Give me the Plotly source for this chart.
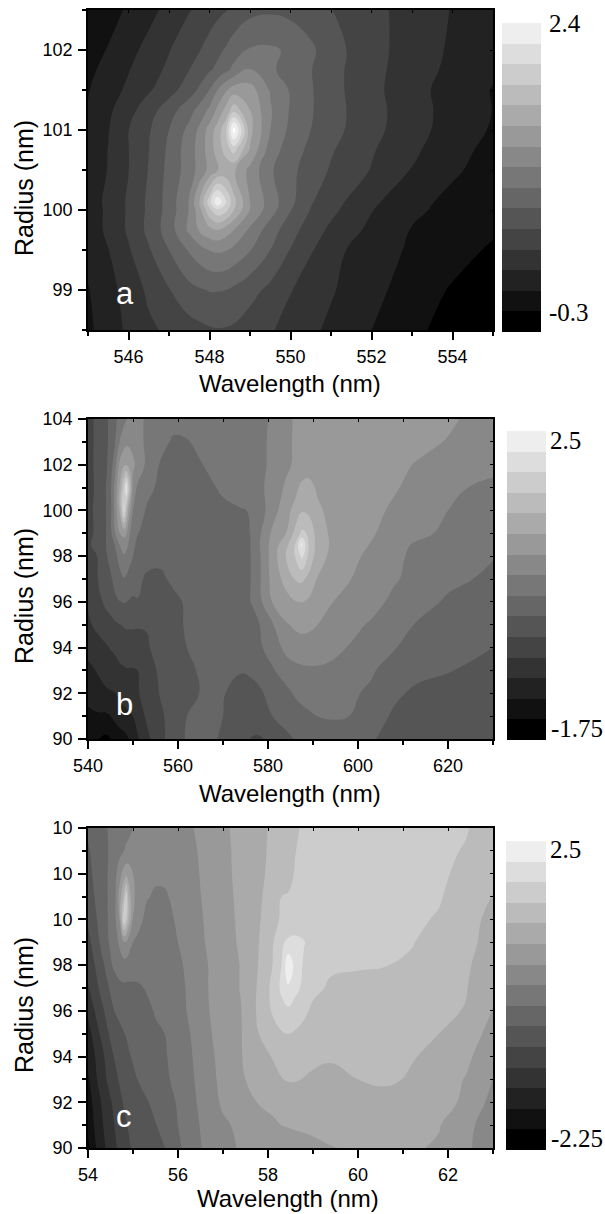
import plotly.graph_objects as go

W, H = 605, 1214

# ---------- panel a (z is the grey band number of the 15-step scale) ----------
a_wave = [545,545.5,546,546.5,547,547.5,547.75,548,548.2,548.4,548.6,549,549.5,550,550.5,551,552,553,554,555]
a_radius = [98.5,99,99.5,99.75,100,100.1,100.5,100.75,101,101.25,101.5,101.75,102,102.5]
a_z = [
[1.8,2.5,3.2,3.8,4.2,4.6,4.75,4.9,4.95,4.92,4.85,4.5,4.1,3.65,3.2,2.8,2.0,1.25,0.6,0.1],
[1.95,2.65,3.4,4.2,4.95,5.7,5.9,6.05,6.05,6.0,5.8,5.35,4.75,4.05,3.5,3.1,2.3,1.55,0.9,0.4],
[2.3,2.98,3.9,4.9,6.0,7.1,7.6,8.02,8.15,8.05,7.75,7.05,6.0,4.95,4.1,3.3,2.5,1.85,1.4,0.85],
[2.45,3.2,4.15,5.25,6.5,8.2,9.1,9.7,9.95,9.5,9.0,7.8,6.5,5.4,4.5,3.8,2.75,1.95,1.5,1.15],
[2.45,3.2,4.15,5.2,6.4,8.05,9.6,11.75,12.8,12.3,11.0,8.95,7.45,6.05,4.95,4.25,3.05,2.2,1.7,1.25],
[2.45,3.25,4.15,5.2,6.4,8.1,10.0,12.6,14.8,13.2,11.3,9.0,7.55,6.25,5.1,4.4,3.2,2.3,1.75,1.3],
[2.3,3.05,3.98,5.05,6.3,7.5,8.35,9.3,9.95,10.3,10.15,8.7,7.15,6.25,5.55,4.9,3.95,2.95,2.15,1.6],
[2.2,3.03,3.98,4.98,6.2,7.55,8.35,9.5,10.45,11.4,12.4,9.9,7.5,6.5,5.75,5.1,4.1,3.2,2.35,1.7],
[2.1,2.95,3.98,4.9,6.0,7.3,8.2,9.4,10.45,11.7,15.5,10.3,8.0,6.75,6.0,5.35,4.3,3.4,2.55,1.9],
[2.05,2.8,3.65,4.55,5.55,6.6,7.35,8.2,9.25,10.3,11.6,10.0,8.1,6.9,6.1,5.4,4.35,3.45,2.6,1.98],
[1.95,2.55,3.2,3.88,4.6,5.55,6.15,7.0,8.0,8.85,9.5,9.45,7.9,6.9,6.1,5.35,4.3,3.35,2.6,1.95],
[1.75,2.35,2.95,3.6,4.2,5.0,5.45,5.9,6.25,6.8,7.25,8.05,7.2,6.55,6.05,5.35,4.3,3.5,2.75,2.15],
[1.5,2.07,2.7,3.3,3.95,4.6,4.95,5.4,5.75,6.1,6.55,7.1,7.15,6.85,6.2,5.4,4.35,3.55,2.85,2.3],
[1.0,1.6,2.15,2.7,3.3,3.95,4.2,4.5,4.75,4.95,5.2,5.7,5.85,5.7,5.4,5.03,4.3,3.6,2.95,2.4],
]

# ---------- panel b ----------
b_wave = [540,542,544,545,546,547,548,548.5,549,550,551,553,556,559,562,566,570,574,576.5,578,581,584,586,587.5,589,591,594,598,603,608,613,620,630]
b_radius = [90,91,92,93,94,95,96,97,98,98.5,99,100,101,102,103,104]
b_z = [
[1.2,1.05,0.8,1.0,1.2,1.45,1.65,1.8,1.95,2.4,2.9,3.7,4.75,5.45,6.1,6.2,5.9,5.2,4.95,4.9,5.2,5.75,6.05,6.15,6.25,6.35,6.4,6.35,6.1,5.6,5.25,5.15,5.1],
[1.75,1.85,1.85,2.0,2.3,2.55,2.7,2.75,2.85,3.0,3.35,4.15,4.8,5.45,6.0,6.05,6.0,5.4,5.35,5.5,6.0,6.4,6.6,6.7,6.85,7.0,7.1,7.0,6.5,5.85,5.45,5.3,5.2],
[2.35,2.7,2.85,2.9,2.97,3.2,3.4,3.45,3.5,3.65,3.9,4.4,5.05,5.5,5.9,6.05,6.05,5.7,5.75,5.85,6.3,6.75,7.1,7.3,7.4,7.4,7.35,7.15,6.85,6.2,5.8,5.55,5.35],
[2.75,3.05,3.4,3.6,3.7,3.85,3.92,3.95,3.95,3.95,4.0,4.45,5.2,5.5,5.9,6.1,6.1,6.05,6.15,6.3,6.9,7.45,7.7,7.8,7.85,7.85,7.75,7.55,7.1,6.6,6.3,6.05,5.75],
[3.3,3.65,3.9,4.05,4.15,4.3,4.35,4.4,4.4,4.45,4.55,4.9,5.3,5.65,6.0,6.25,6.4,6.55,6.7,6.85,7.4,8.3,8.55,8.6,8.6,8.55,8.35,7.95,7.5,7.05,6.75,6.45,6.0],
[3.85,4.2,4.5,4.65,4.85,4.97,5.1,5.15,5.15,5.15,5.1,5.05,5.3,5.6,6.15,6.3,6.4,6.55,6.75,6.95,7.9,8.9,9.15,9.25,9.2,9.0,8.55,8.25,7.9,7.3,6.95,6.7,6.3],
[4.1,4.6,5.25,5.5,5.8,5.97,6.05,6.02,5.95,5.85,5.95,5.6,5.35,5.75,6.15,6.3,6.4,6.7,7.05,7.7,9.05,9.65,9.95,10.02,9.85,9.5,9.05,8.7,8.3,7.8,7.45,6.85,6.5],
[4.3,4.95,5.5,5.85,6.3,6.7,6.95,6.85,6.7,6.45,6.25,5.85,5.8,6.2,6.25,6.3,6.45,6.7,7.05,7.8,9.35,10.35,11.05,11.2,10.75,9.95,9.55,9.05,8.55,8.1,7.7,7.25,6.8],
[4.35,5.0,5.9,6.3,6.75,7.3,7.9,7.75,7.45,7.0,6.75,6.35,6.25,6.2,6.15,6.25,6.45,6.7,7.05,7.8,9.45,11.05,12.0,13.2,11.8,10.45,9.8,9.3,8.75,8.25,7.75,7.3,7.05],
[4.8,5.4,6.0,6.5,7.05,8.0,8.45,8.3,7.95,7.2,6.8,6.6,6.35,6.25,6.25,6.35,6.5,6.75,7.05,7.9,9.4,10.7,12.0,14.2,12.0,10.6,9.9,9.4,8.95,8.4,7.85,7.5,7.2],
[4.65,5.25,6.0,6.7,7.95,8.95,9.3,9.1,8.25,7.5,7.05,6.7,6.4,6.3,6.3,6.4,6.6,6.8,7.05,7.8,9.2,10.0,11.25,12.2,11.9,10.5,9.85,9.5,9.1,8.6,8.3,7.75,7.35],
[4.7,5.25,6.0,6.75,8.3,10.0,13.3,11.5,9.8,8.0,7.6,6.9,6.55,6.4,6.4,6.55,6.8,6.95,7.05,7.5,8.55,9.65,10.3,10.9,10.75,10.2,9.7,9.5,9.25,8.85,8.5,8.0,7.6],
[4.5,5.25,6.0,6.8,8.3,10.0,12.4,13.9,12.2,8.6,7.85,7.3,6.8,6.5,6.5,6.75,7.15,7.4,7.55,7.75,8.4,9.15,9.7,10.25,10.35,9.85,9.7,9.55,9.35,9.1,8.7,8.12,7.85],
[4.55,5.3,5.85,6.45,7.7,9.2,9.9,9.95,9.75,9.2,8.7,7.8,6.95,6.6,6.6,7.05,7.3,7.5,7.6,7.75,8.2,8.8,9.15,9.35,9.5,9.6,9.65,9.6,9.4,9.2,8.95,8.6,8.2],
[4.5,5.3,5.85,6.2,6.95,8.0,8.6,8.75,8.8,8.7,8.4,7.8,7.25,6.9,6.95,7.25,7.4,7.55,7.65,7.8,8.15,8.8,9.1,9.25,9.35,9.45,9.55,9.65,9.65,9.45,9.25,8.95,8.5],
[4.5,5.3,5.85,6.2,6.8,7.3,7.75,7.95,8.1,8.3,8.3,7.85,7.5,7.25,7.3,7.4,7.5,7.6,7.7,7.8,8.1,8.75,9.1,9.25,9.35,9.45,9.55,9.6,9.6,9.55,9.4,9.15,8.55],
]

# ---------- panel c ----------
c_wave = [540,542,544,545,546,547,548,548.5,549,550,551,553,555,557,560,563,566,570,574,578,581,583,584.5,586,588,590,594,600,606,612,618,624,630]
c_radius = [90,91,92,93,94,95,96,97,98,99,100,101,102,103,104]
c_z = [
[0.75,2.15,3.05,3.45,3.85,4.25,4.55,4.75,4.9,5.1,5.2,5.45,5.75,5.97,6.8,7.55,8.15,8.7,9.1,9.3,9.45,9.55,9.6,9.65,9.7,9.8,9.97,10.1,10.15,10.1,9.9,9.15,8.5],
[1.3,2.35,3.3,3.7,4.05,4.4,4.8,4.95,5.05,5.2,5.3,5.6,5.95,6.35,7.0,7.65,8.25,8.85,9.2,9.55,9.8,10.0,10.05,10.1,10.15,10.2,10.25,10.3,10.25,10.15,10.05,9.3,8.4],
[1.5,2.6,3.5,3.9,4.3,4.75,5.1,5.2,5.35,5.5,5.65,5.9,6.3,6.55,7.1,7.75,8.4,9.15,9.65,10.05,10.3,10.45,10.55,10.6,10.6,10.6,10.6,10.7,10.65,10.5,10.3,9.85,8.65],
[1.85,3.0,3.95,4.35,4.75,5.1,5.35,5.45,5.6,5.8,6.0,6.4,6.6,6.8,7.3,7.85,8.55,9.25,9.9,10.3,10.7,10.97,11.05,11.05,10.97,10.85,10.75,11.0,11.15,10.9,10.4,9.95,8.95],
[2.3,3.2,4.2,4.75,5.1,5.35,5.65,5.8,5.9,6.1,6.2,6.6,6.75,6.9,7.4,7.95,8.65,9.3,9.95,10.6,11.05,11.25,11.35,11.35,11.3,11.2,11.1,11.1,11.1,11.05,10.8,10.2,9.35],
[2.6,3.7,4.75,5.15,5.5,5.75,5.97,6.05,6.15,6.25,6.4,6.7,6.9,7.0,7.5,8.05,8.75,9.4,9.95,11.0,11.6,11.9,12.0,11.9,11.7,11.5,11.3,11.25,11.2,11.15,11.0,10.45,9.7],
[3.2,4.3,5.2,5.65,6.05,6.25,6.35,6.35,6.4,6.5,6.6,6.85,7.05,7.3,7.65,8.2,8.85,9.45,9.97,11.2,12.1,12.65,12.8,12.55,12.2,11.8,11.55,11.5,11.45,11.35,11.2,10.95,9.95],
[3.9,4.85,5.7,6.15,6.5,6.7,6.8,6.8,6.8,6.85,6.9,7.05,7.1,7.25,7.7,8.25,8.9,9.45,10.05,11.15,12.25,13.2,13.85,13.3,12.75,12.25,11.85,11.75,11.65,11.5,11.3,11.05,10.2],
[4.4,5.2,6.2,6.85,7.25,7.55,7.65,7.6,7.5,7.4,7.3,7.2,7.15,7.3,7.8,8.35,8.9,9.5,10.05,11.05,12.0,13.0,14.8,13.7,12.85,12.4,12.15,12.08,12.03,11.85,11.5,11.15,10.4],
[4.7,5.7,6.75,7.15,7.55,8.15,8.9,8.9,8.55,8.0,7.75,7.45,7.3,7.45,8.0,8.5,9.0,9.55,10.15,11.0,11.9,12.85,13.2,13.3,13.05,12.75,12.55,12.35,12.2,12.05,11.6,11.3,10.6],
[5.15,6.0,6.8,7.3,7.8,9.0,13.0,12.0,10.75,8.95,8.45,7.7,7.5,7.65,8.15,8.65,9.05,9.6,10.2,10.9,11.75,12.1,12.2,12.3,12.35,12.4,12.4,12.35,12.25,12.1,11.95,11.4,10.7],
[5.5,6.2,6.85,7.25,7.75,9.4,11.3,12.7,10.7,9.2,8.65,8.1,7.85,7.85,8.35,8.75,9.1,9.65,10.25,10.85,11.45,12.0,12.05,12.15,12.25,12.35,12.4,12.4,12.3,12.2,12.05,11.7,10.95],
[5.75,6.3,6.85,7.25,7.7,8.6,9.45,9.7,9.6,9.0,8.6,8.3,8.2,8.25,8.5,8.8,9.15,9.7,10.3,10.8,11.25,11.55,11.8,12.05,12.2,12.3,12.35,12.4,12.35,12.25,12.1,11.85,11.35],
[5.9,6.4,6.9,7.1,7.35,7.65,8.0,8.15,8.2,8.3,8.3,8.35,8.4,8.45,8.6,8.85,9.2,9.75,10.3,10.75,11.2,11.45,11.7,11.98,12.15,12.25,12.3,12.35,12.35,12.25,12.15,11.95,11.45],
[6.15,6.5,6.95,7.1,7.3,7.45,7.6,7.7,7.8,8.0,8.1,8.25,8.4,8.5,8.7,8.95,9.3,9.8,10.35,10.75,11.15,11.45,11.65,11.9,12.1,12.2,12.3,12.35,12.35,12.3,12.25,12.05,11.6],
]

# ---------- ticks and labels ----------
a_xticks = [546,548,550,552,554]
a_xlabels = ["546","548","550","552","554"]
a_xminor = [545,547,549,551,553,555]
a_yticks = [99,100,101,102]
a_ylabels = ["99","100","101","102"]
a_yminor = [98.5,99.5,100.5,101.5,102.5]

b_xticks = [540,560,580,600,620]
b_xlabels = ["540","560","580","600","620"]
b_xminor = [550,570,590,610,630]
b_yticks = [90,92,94,96,98,100,102,104]
b_ylabels = ["90","92","94","96","98","100","102","104"]
b_yminor = [91,93,95,97,99,101,103]

c_xticks = [540,560,580,600,620]
c_xlabels = ["54","56","58","60","62"]
c_xminor = [550,570,590,610,630]
c_yticks = [90,92,94,96,98,100,102,104]
c_ylabels = ["90","92","94","96","98","10","10","10"]
c_yminor = [91,93,95,97,99,101,103]

bar_bands = list(range(15))
bar_labels = [("2.4", "-0.3"), ("2.5", "-1.75"), ("2.5", "-2.25")]
panel_letters = ["a", "b", "c"]
x_title = "Wavelength (nm)"
y_title = "Radius (nm)"

GREYS = [[0, "#000000"], [1, "#ffffff"]]
SANS = "Liberation Sans"
SERIF = "Liberation Serif"


def px(x):
    return x / W


def py(y):
    return 1 - y / H


panels = [
    dict(wave=a_wave, radius=a_radius, z=a_z, xt=a_xticks, xl=a_xlabels, xm=a_xminor,
         yt=a_yticks, yl=a_ylabels, ym=a_yminor, xr=[545, 555], yr=[98.5, 102.5],
         top=10, bar=(502, 541, 23, 332), up=(547, 23), low=(547, 312),
         letter=(125, 293), ttl_y=383, ttl_x=290, rad_y=188),
    dict(wave=b_wave, radius=b_radius, z=b_z, xt=b_xticks, xl=b_xlabels, xm=b_xminor,
         yt=b_yticks, yl=b_ylabels, ym=b_yminor, xr=[540, 630], yr=[90, 104],
         top=419, bar=(507, 546, 431, 740), up=(548, 440), low=(549, 728),
         letter=(124, 705), ttl_y=793, ttl_x=290, rad_y=596),
    dict(wave=c_wave, radius=c_radius, z=c_z, xt=c_xticks, xl=c_xlabels, xm=c_xminor,
         yt=c_yticks, yl=c_ylabels, ym=c_yminor, xr=[540, 630], yr=[90, 104],
         top=828, bar=(506, 546, 841, 1150), up=(548, 849), low=(549, 1138),
         letter=(124, 1116), ttl_y=1198, ttl_x=288, rad_y=1005),
]

L, R = 88, 493
fig = go.Figure()
layout = {}
ann = []

for i, p in enumerate(panels):
    n = i + 1
    xa, ya = f"x{n}", f"y{n}"
    fig.add_trace(go.Contour(
        x=p["wave"], y=p["radius"], z=p["z"], xaxis=xa, yaxis=ya,
        colorscale=GREYS, showscale=False, autocontour=False,
        contours=dict(coloring="fill", start=1, end=15, size=1, showlines=False),
        line=dict(width=0, smoothing=1.3), hoverinfo="skip",
    ))
    t = p["top"]
    dom_x = [px(L), px(R)]
    dom_y = [py(t + 320), py(t)]
    common = dict(showline=True, linecolor="black", linewidth=1.5, showgrid=False,
                  zeroline=False, ticks="outside", ticklen=8, tickwidth=1.5, tickcolor="black",
                  tickfont=dict(family=SANS, size=18, color="black"))
    layout[f"xaxis{n}"] = dict(common, domain=dom_x, range=p["xr"], anchor=ya,
                               tickmode="array", tickvals=p["xt"], ticktext=p["xl"], ticklabelstandoff=2,
                               minor=dict(tickmode="array", tickvals=p["xm"], ticks="outside",
                                          ticklen=4, tickwidth=1.5, tickcolor="black"))
    layout[f"yaxis{n}"] = dict(common, domain=dom_y, range=p["yr"], anchor=xa,
                               tickmode="array", tickvals=p["yt"], ticktext=p["yl"], ticklabelstandoff=2,
                               minor=dict(tickmode="array", tickvals=p["ym"], ticks="outside",
                                          ticklen=4, tickwidth=1.5, tickcolor="black"))
    # opposite frame edges with short inward ticks
    m = n + 6
    layout[f"xaxis{m}"] = dict(domain=dom_x, range=p["xr"], anchor=f"y{m}", side="top", overlaying=xa,
                               showline=True, linecolor="black", linewidth=1.5, showgrid=False, zeroline=False,
                               ticks="inside", ticklen=3, tickwidth=1, tickcolor="black", showticklabels=False,
                               tickmode="array", tickvals=p["xt"] + p["xm"])
    layout[f"yaxis{m}"] = dict(domain=dom_y, range=p["yr"], anchor=f"x{m}", side="right", overlaying=ya,
                               showline=True, linecolor="black", linewidth=1.5, showgrid=False, zeroline=False,
                               ticks="inside", ticklen=3, tickwidth=1, tickcolor="black", showticklabels=False,
                               tickmode="array", tickvals=p["yt"] + p["ym"])
    fig.add_trace(go.Scatter(x=[], y=[], xaxis=f"x{m}", yaxis=f"y{m}", showlegend=False))

    # grey scale bar
    b = n + 3
    x0, x1, y0, y1 = p["bar"]
    fig.add_trace(go.Heatmap(z=[[k] for k in bar_bands], xaxis=f"x{b}", yaxis=f"y{b}",
                             colorscale=GREYS, zmin=0, zmax=15, showscale=False, hoverinfo="skip"))
    layout[f"xaxis{b}"] = dict(domain=[px(x0), px(x1)], visible=False, anchor=f"y{b}")
    layout[f"yaxis{b}"] = dict(domain=[py(y1), py(y0)], visible=False, anchor=f"x{b}")

    for text, (ax, ay) in zip(bar_labels[i], (p["up"], p["low"])):
        ann.append(dict(text=text, xref="paper", yref="paper", x=px(ax), y=py(ay), xanchor="left", yanchor="middle",
                        showarrow=False, font=dict(family=SERIF, size=25, color="black")))
    ann.append(dict(text=panel_letters[i], xref="paper", yref="paper", x=px(p["letter"][0]), y=py(p["letter"][1]),
                    xanchor="center", yanchor="middle", showarrow=False,
                    font=dict(family=SANS, size=31, color="white")))
    ann.append(dict(text=x_title, xref="paper", yref="paper", x=px(p["ttl_x"]), y=py(p["ttl_y"]),
                    xanchor="center", yanchor="middle", showarrow=False,
                    font=dict(family=SANS, size=24, color="black")))
    ann.append(dict(text=y_title, xref="paper", yref="paper", x=px(24), y=py(p["rad_y"]), textangle=-90,
                    xanchor="center", yanchor="middle", showarrow=False,
                    font=dict(family=SANS, size=25, color="black")))

fig.update_layout(width=W, height=H, margin=dict(l=0, r=0, t=0, b=0, autoexpand=False), paper_bgcolor="white",
                  plot_bgcolor="white", showlegend=False, annotations=ann, **layout)
fig.write_html("out.html", config={"displayModeBar": False},
               post_script="document.body.style.margin='0';document.body.style.overflow='hidden';")
